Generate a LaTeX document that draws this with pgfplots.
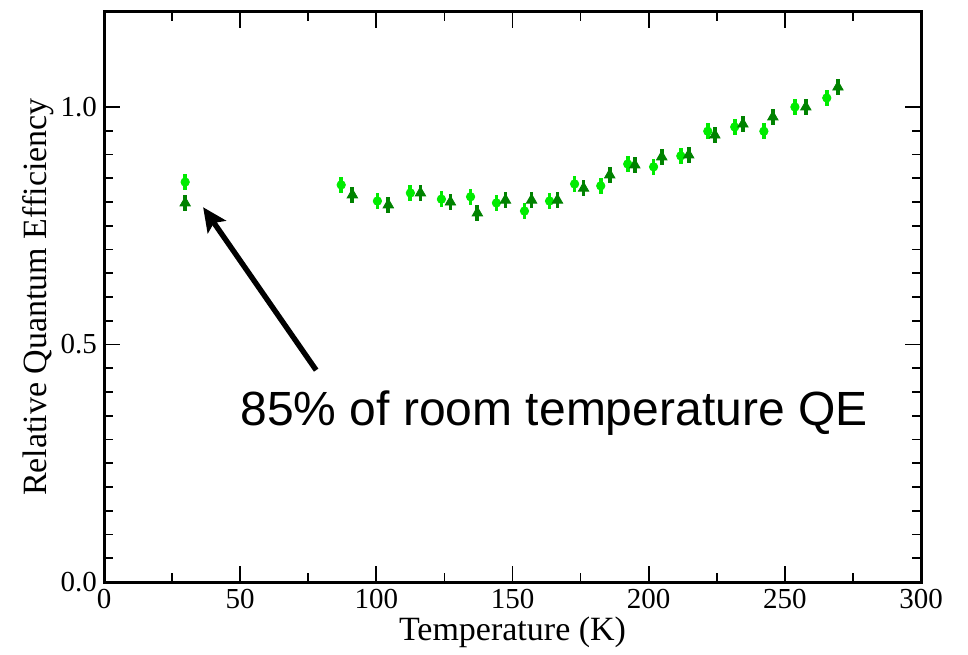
\documentclass[border=0pt]{standalone}
\usepackage{fontspec}
\setmainfont{Liberation Serif}
\newfontfamily\helv{Liberation Sans}
\usepackage{pgfplots}
\pgfplotsset{compat=1.18}
\usetikzlibrary{arrows.meta}

\definecolor{qelight}{RGB}{0,235,0}
\definecolor{qedark}{RGB}{0,130,0}

% Relative QE versus temperature, two devices
\pgfplotstableread{
T      qe
29.8   0.842
87.1   0.836
100.4  0.802
112.5  0.819
123.9  0.806
134.6  0.811
144.1  0.798
154.4  0.781
163.6  0.802
172.8  0.838
182.4  0.834
192.3  0.880
201.8  0.874
211.8  0.897
221.7  0.949
231.6  0.958
242.3  0.949
253.7  1.000
265.4  1.019
}\lightdata

\pgfplotstableread{
T      qe
29.8   0.798
91.2   0.815
104.4  0.794
116.2  0.819
127.2  0.800
137.1  0.777
147.4  0.804
157.0  0.804
166.5  0.804
176.1  0.829
185.7  0.857
194.9  0.878
204.8  0.895
214.7  0.899
224.3  0.941
234.6  0.964
245.6  0.979
257.7  1.000
269.5  1.042
}\darkdata

\begin{document}
\begin{tikzpicture}
\useasboundingbox (-52pt,-36pt) rectangle (432pt,291pt);
\begin{axis}[
  scale only axis,
  width=408.5pt, height=285pt,
  xmin=0, xmax=300, ymin=0, ymax=1.2,
  xtick={0,50,...,300}, ytick={0,0.5,1.0},
  minor x tick num=1, minor y tick num=9,
  major tick length=8pt, minor tick length=4.5pt,
  tick style={black, line width=0.9pt},
  axis line style={line width=1.5pt},
  /pgf/number format/assume math mode=true,
  tick label style={font=\fontsize{14.5}{17}\selectfont},
  yticklabel style={/pgf/number format/fixed,
    /pgf/number format/fixed zerofill,
    /pgf/number format/precision=1},
  xticklabel style={/pgf/number format/fixed},
  label style={font=\fontsize{17}{20}\selectfont},
  xlabel={Temperature (K)},
  ylabel={Relative Quantum Efficiency},
  xlabel style={at={(axis description cs:0.5,-0.1018)}, anchor=base},
  ylabel style={at={(axis description cs:-0.081,0.5)}, anchor=center},
  clip=false,
]
\addplot[only marks, mark=*, mark size=2.1pt, color=qelight,
  error bars/.cd, y dir=both, y fixed=0.017,
  error bar style={line width=1.9pt, qelight}, error mark=none]
  table[x=T, y=qe] {\lightdata};
\addplot[only marks, mark=triangle*, mark size=3.0pt, color=qedark,
  error bars/.cd, y dir=both, y fixed=0.017,
  error bar style={line width=1.9pt, qedark}, error mark=none]
  table[x=T, y=qe] {\darkdata};

\draw[line width=2.7pt, -{Stealth[length=12pt,width=11pt,inset=2.5pt]}]
  (axis cs:77.9,0.446) -- (axis cs:36.4,0.789);
\node[anchor=base west, inner sep=0pt, font=\helv\fontsize{24}{28}\selectfont]
  at (axis cs:50.0,0.3305) {85\% of room temperature QE};
\end{axis}
\end{tikzpicture}
\end{document}
